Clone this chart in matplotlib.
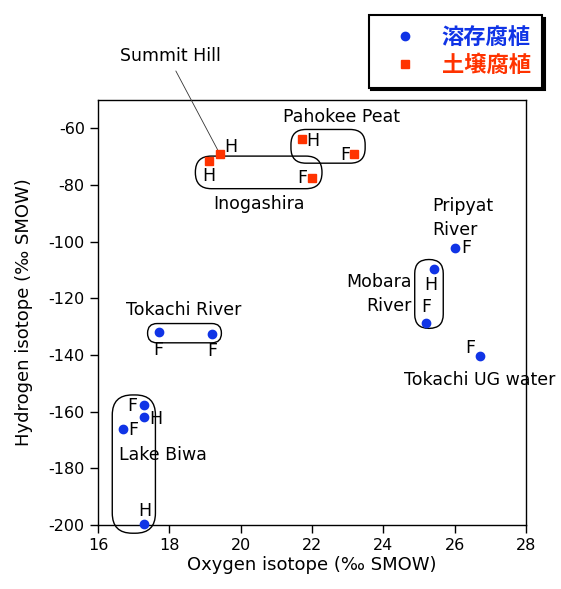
import matplotlib.pyplot as plt
from matplotlib.patches import FancyBboxPatch

plt.rcParams['axes.unicode_minus'] = False

# dissolved humic substances (blue circles)
dis_o = [17.70, 19.20, 17.30, 17.30, 16.71, 17.30, 26.01, 25.42, 25.21, 26.70]
dis_h = [-131.9, -132.6, -157.7, -162.0, -166.2, -199.6, -102.4, -109.5, -128.6, -140.4]
dis_tag = ['F', 'F', 'F', 'H', 'F', 'H', 'F', 'H', 'F', 'F']

# soil humic substances (red squares)
soil_o = [19.41, 19.11, 22.00, 21.71, 23.19]
soil_h = [-68.9, -71.6, -77.5, -63.9, -68.9]
soil_tag = ['H', 'H', 'F', 'H', 'F']

series_names = ['溶存腐植', '土壌腐植']

BLUE = '#1034e6'
RED = '#ff3300'

# offsets (points) of the H/F tags from their markers
dis_off = [(0, -13), (0, -12), (-8.6, -0.7), (8, -1.5), (7, -0.7),
           (0, 9.4), (8, 0), (-2, -11.5), (0, 11.5), (-6.5, 5.8)]
soil_off = [(8, 5), (0, -11), (-7, 0), (8, -1.4), (-6.5, -1.4)]

# site groups: (x0, x1, y0, y1, corner radius in px)
groups = [
    (18.73, 22.28, -81.3, -69.8, 16),   # Inogashira
    (21.41, 23.49, -72.3, -60.4, 15),   # Pahokee Peat
    (24.88, 25.68, -130.6, -106.3, 14),  # Mobara River
    (17.39, 19.46, -135.7, -128.9, 9.5),  # Tokachi River
    (16.40, 17.61, -202.9, -154.1, 20),  # Lake Biwa
]

fig = plt.figure(figsize=(5.61, 5.89), dpi=100)
ax = fig.add_axes([98 / 561, 64 / 589, 428 / 561, 425 / 589])
ax.set_xlim(16, 28)
ax.set_ylim(-200, -50)
ax.set_xticks(range(16, 29, 2))
ax.set_yticks(range(-200, -59, 20))
ax.tick_params(direction='out', length=6, width=1.0, labelsize=11.5,
               top=False, right=False, colors='black')
for sp in ax.spines.values():
    sp.set_linewidth(1.0)
ax.set_xlabel('Oxygen isotope (‰ SMOW)', fontsize=13, labelpad=2)
ax.set_ylabel('Hydrogen isotope (‰ SMOW)', fontsize=13, labelpad=11)

ax.plot(dis_o, dis_h, 'o', color=BLUE, ms=6, ls='none', clip_on=False,
        label=series_names[0], zorder=5)
ax.plot(soil_o, soil_h, 's', color=RED, ms=6, ls='none', clip_on=False,
        label=series_names[1], zorder=5)

for x, y, t, (dx, dy) in zip(dis_o, dis_h, dis_tag, dis_off):
    ax.annotate(t, (x, y), xytext=(dx, dy), textcoords='offset points',
                ha='center', va='center', fontsize=12.5, annotation_clip=False)
for x, y, t, (dx, dy) in zip(soil_o, soil_h, soil_tag, soil_off):
    ax.annotate(t, (x, y), xytext=(dx, dy), textcoords='offset points',
                ha='center', va='center', fontsize=12.5, annotation_clip=False)

# rounded outlines drawn with equal pixel radii
bb = ax.get_window_extent()
xpp = 12 / bb.width
ypp = 150 / bb.height
asp = ypp / xpp
for x0, x1, y0, y1, r in groups:
    box = FancyBboxPatch((x0, y0), x1 - x0, y1 - y0,
                         boxstyle=f'round,pad=0,rounding_size={r * xpp}',
                         mutation_aspect=asp, fc='none', ec='black', lw=1.0,
                         clip_on=False, zorder=3)
    ax.add_patch(box)

fs = 12.5
ax.text(22.82, -56.1, 'Pahokee Peat', ha='center', va='center', fontsize=fs)
ax.text(20.51, -86.8, 'Inogashira', ha='center', va='center', fontsize=fs)
ax.text(25.38, -91.6, 'Pripyat\nRiver', ha='left', va='center', fontsize=fs,
        linespacing=1.45)
ax.text(24.79, -118.5, 'Mobara\nRiver', ha='right', va='center', fontsize=fs,
        linespacing=1.45)
ax.text(26.70, -148.9, 'Tokachi UG water', ha='center', va='center',
        fontsize=fs, clip_on=False, zorder=6)
ax.text(18.39, -124.2, 'Tokachi River', ha='center', va='center', fontsize=fs)
ax.text(17.83, -175.3, 'Lake Biwa', ha='center', va='center', fontsize=fs)
ax.annotate('Summit Hill', (soil_o[0], soil_h[0]), xytext=(18.03, -34.3),
            ha='center', va='center', fontsize=fs, annotation_clip=False,
            arrowprops=dict(arrowstyle='-', lw=0.6, color='#333333',
                            relpos=(0.52, 0), shrinkA=3, shrinkB=3))

leg = ax.legend(loc='upper right', bbox_to_anchor=(542 / 561, 1 - 15 / 589),
                bbox_transform=fig.transFigure, borderaxespad=0,
                fancybox=False, edgecolor='black', framealpha=1,
                shadow={'color': 'black', 'alpha': 1},
                prop={'family': 'Noto Sans CJK JP', 'weight': 'bold', 'size': 16},
                handletextpad=0.5, borderpad=0.5, labelspacing=0.2,
                handlelength=2.3)
leg.get_frame().set_linewidth(1.5)
for txt, c in zip(leg.get_texts(), [BLUE, RED]):
    txt.set_color(c)

fig.savefig('out.png', dpi=100)
